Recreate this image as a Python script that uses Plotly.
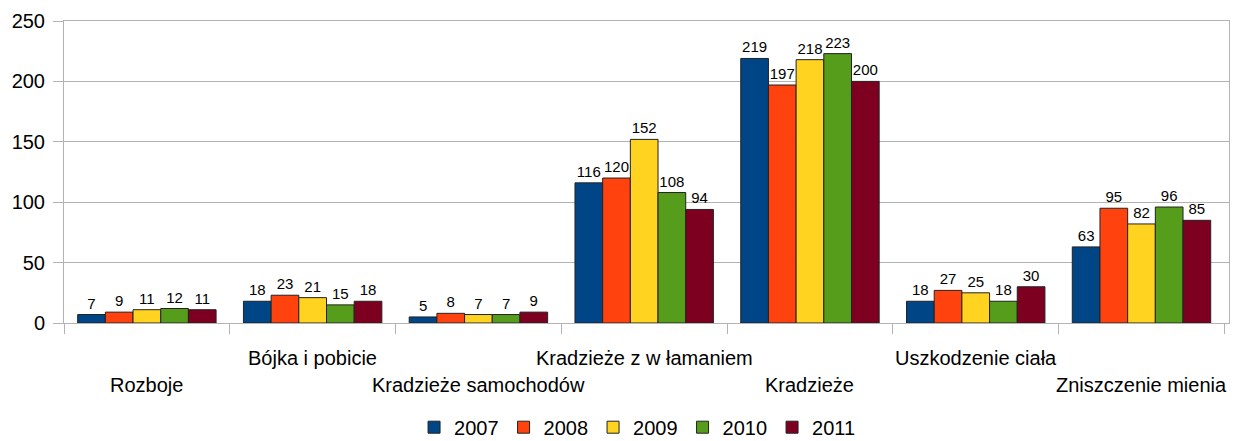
import plotly.graph_objects as go

categories = ["Rozboje", "Bójka i pobicie", "Kradzieże samochodów", "Kradzieże z w łamaniem",
              "Kradzieże", "Uszkodzenie ciała", "Zniszczenie mienia"]
years = ["2007", "2008", "2009", "2010", "2011"]
v2007 = [7, 18, 5, 116, 219, 18, 63]
v2008 = [9, 23, 8, 120, 197, 27, 95]
v2009 = [11, 21, 7, 152, 218, 25, 82]
v2010 = [12, 15, 7, 108, 223, 18, 96]
v2011 = [11, 18, 9, 94, 200, 30, 85]
series = [v2007, v2008, v2009, v2010, v2011]
colors = ["#004586", "#ff420e", "#ffd320", "#579d1c", "#7e0021"]
y_ticks = [0, 50, 100, 150, 200, 250]

FONT = "Liberation Sans, Arial, sans-serif"

fig = go.Figure()
for name, vals, col in zip(years, series, colors):
    fig.add_trace(go.Bar(
        x=categories, y=vals, name=name,
        marker=dict(color=col, line=dict(color="#222222", width=1)),
        text=[str(v) for v in vals], textposition="outside",
        textfont=dict(family=FONT, size=15, color="#000000"),
        cliponaxis=False,
    ))

# staggered category labels
for i, c in enumerate(categories):
    fig.add_annotation(
        x=c, xref="x", yref="paper",
        y=-0.115 if i % 2 == 1 else -0.205,
        yanchor="middle", xanchor="center",
        text=c, showarrow=False,
        font=dict(family=FONT, size=20, color="#000000"),
    )

# page body has an 8px default margin, so the figure is sized/margined to compensate
fig.update_layout(
    width=1232, height=433,
    margin=dict(l=56, r=11, t=13, b=118, autoexpand=False),
    paper_bgcolor="white", plot_bgcolor="white",
    barmode="group", bargap=0.165, bargroupgap=0,
    font=dict(family=FONT, color="#000000"),
    legend=dict(
        orientation="h", x=0.511, xanchor="center", xref="container",
        y=-0.345, yanchor="middle", yref="paper",
        font=dict(family=FONT, size=20, color="#000000"),
        itemwidth=30, tracegroupgap=0,
    ),
    showlegend=True,
)
fig.update_xaxes(
    type="category", tickson="boundaries", ticks="outside", ticklen=10,
    tickcolor="#b3b3b3", showticklabels=False,
    showline=True, linecolor="#b3b3b3", linewidth=1, mirror=True,
    showgrid=False,
)
fig.update_yaxes(
    range=[0, 250], tickvals=y_ticks, ticks="outside", ticklen=10,
    tickcolor="#b3b3b3", showgrid=True, gridcolor="#b3b3b3", gridwidth=1,
    showline=True, linecolor="#b3b3b3", linewidth=1, mirror=True,
    tickfont=dict(family=FONT, size=20, color="#000000"),
    ticklabelstandoff=4,
    zeroline=False, automargin=False,
)

fig.write_html("out.html")
